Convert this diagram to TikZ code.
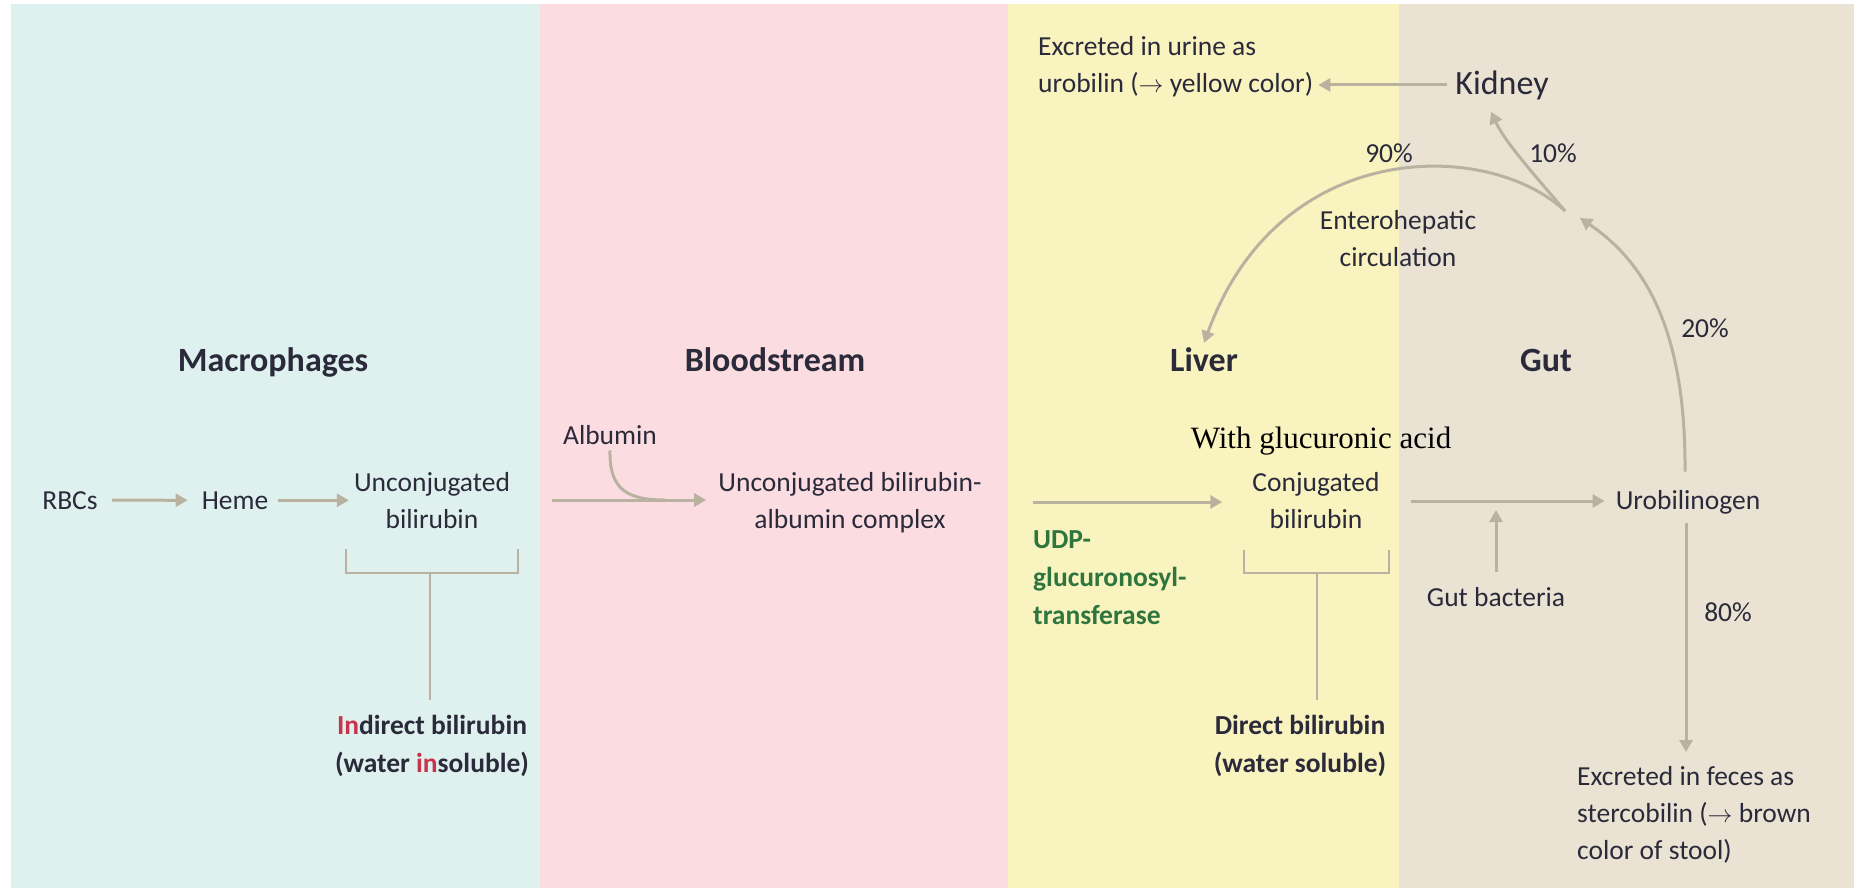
\documentclass[tikz,border=0pt]{standalone}
\usepackage{fontspec}
\setmainfont{Carlito}
\newfontfamily\serifgl{Liberation Serif}
\usetikzlibrary{arrows.meta}
\definecolor{cyanbg}{RGB}{223,241,239}
\definecolor{pinkbg}{RGB}{251,220,225}
\definecolor{yellowbg}{RGB}{249,243,191}
\definecolor{beigebg}{RGB}{234,226,211}
\definecolor{arrowc}{RGB}{186,178,160}
\definecolor{txt}{RGB}{42,42,58}
\definecolor{grn}{RGB}{46,118,62}
\definecolor{rd}{RGB}{200,50,75}
\begin{document}
\begin{tikzpicture}[x=1pt,y=-1pt,
  lbl/.style={inner sep=0pt, text=txt, font=\fontsize{27.5}{37}\selectfont, align=center},
  hdr/.style={inner sep=0pt, text=txt, font=\fontsize{34}{40}\selectfont\bfseries},
  bld/.style={inner sep=0pt, text=txt, align=center, font=\fontsize{27.5}{38}\selectfont\bfseries},
  arr/.style={draw=arrowc, line width=3pt, -{Triangle[length=12pt,width=13pt]}},
  crv/.style={draw=arrowc, line width=3pt},
  brk/.style={draw=arrowc, line width=2.5pt},
]
\useasboundingbox (0,0) rectangle (1860,891);
\fill[white] (0,0) rectangle (1860,891);
\fill[cyanbg] (11,4) rectangle (540,888);
\fill[pinkbg] (540,4) rectangle (1008,888);
\fill[yellowbg] (1008,4) rectangle (1399,888);
\fill[beigebg] (1399,4) rectangle (1854,888);

% headers
\node[hdr, anchor=base] (mac) at (273,371) {Macrophages};
\node[hdr, anchor=base] (blood) at (775,371) {Bloodstream};
\node[hdr, anchor=base] (liver) at (1204,371) {Liver};
\node[hdr, anchor=base] (gut) at (1546,371) {Gut};

% labels
\node[lbl, anchor=base] (rbc) at (70,509) {RBCs};
\node[lbl, anchor=base] (heme) at (235,509) {Heme};
\node[lbl] (unc) at (432,501) {Unconjugated\\bilirubin};
\node[lbl, anchor=base] (alb) at (610,444) {Albumin};
\node[lbl] (ubac) at (850,503) {Unconjugated bilirubin-\\albumin complex};
\node[lbl] (conj) at (1316,501) {Conjugated\\bilirubin};
\node[anchor=base, inner sep=0pt, text=black, font=\serifgl\fontsize{31}{36}\selectfont] (glu) at (1321,448) {With glucuronic acid};
\node[bld, text=grn, anchor=north west, align=left] (udp) at (1033,530) {UDP-\\glucuronosyl-\\transferase};
\node[lbl, anchor=base] (urob) at (1688,509) {Urobilinogen};
\node[lbl, anchor=base] (gb) at (1496,606) {Gut bacteria};
\node[bld] (ind) at (432,746) {\textcolor{rd}{In}direct bilirubin\\(water \textcolor{rd}{in}soluble)};
\node[bld] (dir) at (1300,746) {Direct bilirubin\\(water soluble)};
\node[lbl, anchor=north west, align=left] (fec) at (1577,766) {Excreted in feces as\\stercobilin ($\rightarrow$ brown\\color of stool)};
\node[lbl, anchor=base, font=\fontsize{34}{40}\selectfont] (kid) at (1502,94) {Kidney};
\node[lbl, anchor=north west, align=left] (uri) at (1038,36) {Excreted in urine as\\urobilin ($\rightarrow$ yellow color)};
\node[lbl] (ent) at (1398,239) {Enterohepatic\\circulation};
\node[lbl, anchor=base] (p90) at (1389,162) {90\%};
\node[lbl, anchor=base] (p10) at (1553,162) {10\%};
\node[lbl, anchor=base] (p20) at (1705,337) {20\%};
\node[lbl, anchor=base] (p80) at (1728,621) {80\%};

% brackets
\coordinate (b1m) at (430,573);
\coordinate (b1e) at (430,700);
\draw[brk] (346,549) -- (346,573) -- (518,573) -- (518,549);
\draw[brk] (b1m) -- (b1e);
\coordinate (b2m) at (1317,573);
\coordinate (b2e) at (1317,700);
\draw[brk] (1244,550) -- (1244,573) -- (1389,573) -- (1389,550);
\draw[brk] (b2m) -- (b2e);

% main arrows
\draw[arr] ([xshift=14pt]rbc.east) -- ([xshift=-14pt]heme.west);
\draw[arr] ([xshift=10pt]heme.east) -- ([xshift=-5pt]heme.east -| unc.west);
\coordinate (bsStart) at (552,500);
\draw[arr] (bsStart) -- ([xshift=-12pt]bsStart -| ubac.west);
\coordinate (albJoin) at (665,500);
\draw[crv] ([yshift=-6pt]alb.south) .. controls (609,490) and (628,500) .. (albJoin);
\coordinate (lvStart) at (1033,502);
\draw[arr] (lvStart) -- ([xshift=-30pt]lvStart -| conj.west);
\draw[arr] ([xshift=31pt]conj.east) -- ([xshift=-11pt]conj.east -| urob.west);
\coordinate (gbTip) at (1496,510);
\draw[arr] ([yshift=15pt]gb.north) -- (gbTip);
\draw[arr] ([xshift=-2pt,yshift=-9pt]urob.south) -- ([xshift=-2pt,yshift=14pt]urob.south |- fec.north);

% recirculation
\coordinate (split) at (1565,211);
\coordinate (tip20) at (1580,218);
\draw[arr] ([xshift=-3pt,yshift=18pt]urob.north) .. controls (1686,330) and (1645,262) .. (tip20);
\draw[arr] (split) .. controls (1532,172) and (1505,142) .. ([xshift=-11pt,yshift=-12pt]kid.south);
\draw[arr] (split) .. controls (1490,140) and (1280,135) .. ([yshift=4pt]liver.north);
\draw[arr] ([xshift=-8pt]kid.west) -- ([xshift=5pt]kid.west -| uri.east);
\end{tikzpicture}
\end{document}
